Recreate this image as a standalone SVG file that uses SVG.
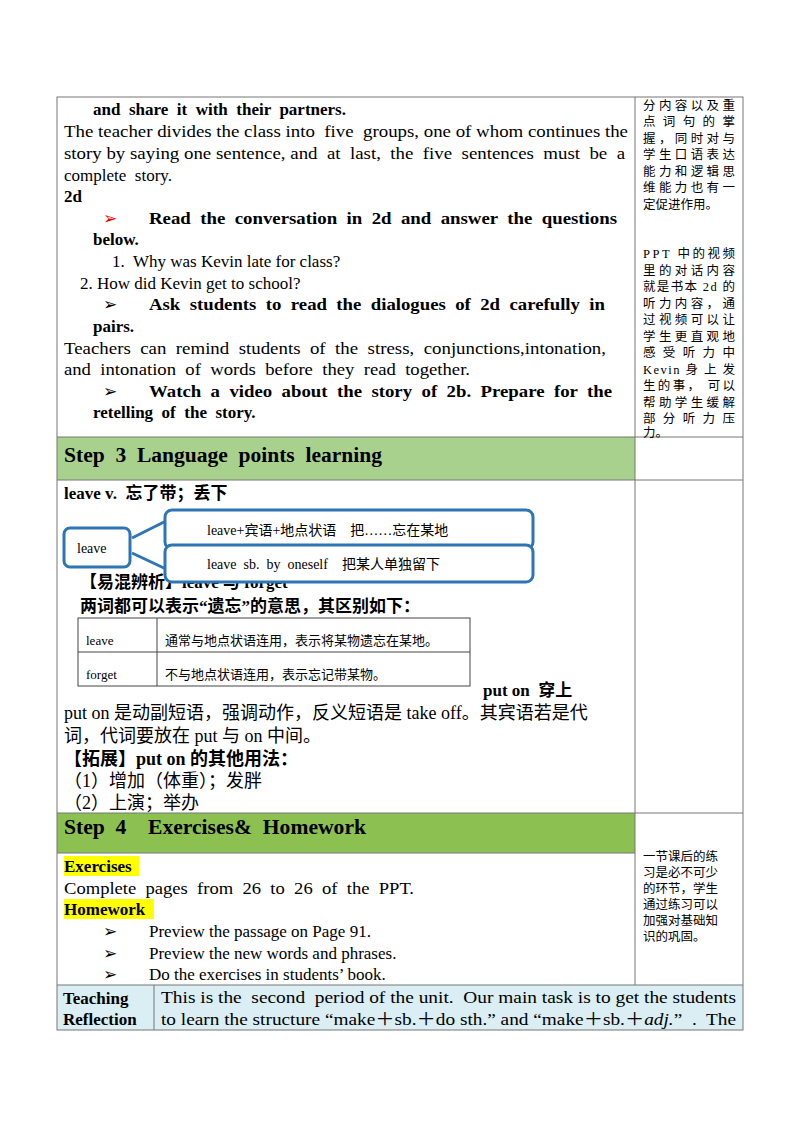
<svg xmlns="http://www.w3.org/2000/svg" width="800" height="1132" viewBox="0 0 800 1132" xml:space="preserve">
<style>
text{font-family:"Liberation Serif","Noto Sans CJK SC",serif;font-size:17px;fill:#000;white-space:pre}
.b{font-weight:bold}
.s{font-size:14px}
.r{font-size:12.5px}
.g{stroke:#777;stroke-width:1;fill:none}
.cb{fill:#fff;stroke:#2e75b6;stroke-width:3}
</style>
<rect width="800" height="1132" fill="#fff"/>
<g id="fills">
<rect x="57" y="437" width="578" height="43" fill="#a9d18e"/>
<rect x="57" y="813" width="578" height="40" fill="#8cc152"/>
<rect x="57" y="985" width="686" height="45" fill="#daeef3"/>
<rect x="64" y="856" width="75" height="20" fill="#ffff00"/>
<rect x="64" y="899" width="90" height="20" fill="#ffff00"/>
</g>
<g id="grid" class="g">
<rect x="57" y="97" width="686" height="933"/>
<line x1="635" y1="97" x2="635" y2="985"/>
<line x1="57" y1="437" x2="743" y2="437"/>
<line x1="57" y1="480" x2="743" y2="480"/>
<line x1="57" y1="813" x2="743" y2="813"/>
<line x1="57" y1="853" x2="635" y2="853"/>
<line x1="57" y1="985" x2="743" y2="985"/>
<line x1="154" y1="985" x2="154" y2="1030"/>
</g>
<g id="block1">
<text x="93" y="115" class="b">and  share  it  with  their  partners.</text>
<text x="64" y="137" textLength="564" lengthAdjust="spacingAndGlyphs">The teacher divides the class into  five  groups, one of whom continues the</text>
<text x="64" y="159" textLength="561" lengthAdjust="spacingAndGlyphs">story by saying one sentence, and  at  last,  the  five  sentences  must  be  a</text>
<text x="64" y="181">complete  story.</text>
<text x="64" y="202" class="b">2d</text>
<text x="103" y="224" style="fill:#e00">➢</text>
<text x="149" y="224" class="b" textLength="468" lengthAdjust="spacingAndGlyphs">Read  the  conversation  in  2d  and  answer  the  questions</text>
<text x="93" y="245" class="b">below.</text>
<text x="112" y="267">1.  Why was Kevin late for class?</text>
<text x="80" y="289">2. How did Kevin get to school?</text>
<text x="103" y="310">➢</text>
<text x="149" y="310" class="b" textLength="456" lengthAdjust="spacingAndGlyphs">Ask  students  to  read  the  dialogues  of  2d  carefully  in</text>
<text x="93" y="332" class="b">pairs.</text>
<text x="64" y="354" textLength="542" lengthAdjust="spacingAndGlyphs">Teachers  can  remind  students  of  the  stress,  conjunctions,intonation,</text>
<text x="64" y="375" textLength="406" lengthAdjust="spacingAndGlyphs">and  intonation  of  words  before  they  read  together.</text>
<text x="103" y="397">➢</text>
<text x="149" y="397" class="b" textLength="463" lengthAdjust="spacingAndGlyphs">Watch  a  video  about  the  story  of  2b.  Prepare  for  the</text>
<text x="93" y="418" class="b">retelling  of  the  story.</text>
</g>
<g id="notes1">
<text x="643" y="110" class="r" textLength="92">分内容以及重</text>
<text x="643" y="126" class="r" textLength="92">点 词 句 的 掌</text>
<text x="643" y="143" class="r" textLength="92">握，同时对与</text>
<text x="643" y="159" class="r" textLength="92">学生口语表达</text>
<text x="643" y="176" class="r" textLength="92">能力和逻辑思</text>
<text x="643" y="192" class="r" textLength="92">维能力也有一</text>
<text x="643" y="209" class="r">定促进作用。</text>
<text x="643" y="258" class="r" textLength="92">PPT 中的视频</text>
<text x="643" y="275" class="r" textLength="92">里的对话内容</text>
<text x="643" y="291" class="r" textLength="92">就是书本 2d 的</text>
<text x="643" y="308" class="r" textLength="92">听力内容，通</text>
<text x="643" y="324" class="r" textLength="92">过视频可以让</text>
<text x="643" y="341" class="r" textLength="92">学生更直观地</text>
<text x="643" y="357" class="r" textLength="92">感 受 听 力 中</text>
<text x="643" y="374" class="r" textLength="92">Kevin 身 上 发</text>
<text x="643" y="390" class="r" textLength="92">生的事， 可以</text>
<text x="643" y="407" class="r" textLength="92">帮助学生缓解</text>
<text x="643" y="423" class="r" textLength="92">部 分 听 力 压</text>
<text x="643" y="437" class="r">力。</text>
</g>
<text x="64" y="462" class="b" style="font-size:20px" textLength="318" lengthAdjust="spacingAndGlyphs">Step  3  Language  points  learning</text>
<g id="lp">
<text x="64" y="499" class="b">leave v.  忘了带；丢下</text>
<text x="80" y="588" class="b">【易混辨析】leave 与 forget</text>
<text x="80" y="612" class="b">两词都可以表示“遗忘”的意思，其区别如下：</text>
</g>
<g id="connectors" stroke="#2e75b6" stroke-width="3">
<line x1="132" y1="538" x2="166" y2="521"/>
<line x1="132" y1="553" x2="166" y2="569"/>
</g>
<g id="node-leave"><rect x="64" y="528" width="66" height="39" rx="6" class="cb"/><text x="77" y="553" class="s">leave</text></g>
<g id="node-1"><rect x="165" y="510" width="368" height="39" rx="7" class="cb"/><text x="207" y="535" class="s">leave+宾语+地点状语　把……忘在某地</text></g>
<g id="node-2"><rect x="165" y="545" width="368" height="37" rx="7" class="cb"/><text x="207" y="569" class="s">leave  sb.  by  oneself　把某人单独留下</text></g>
<g id="tbl" class="g">
<rect x="78" y="618" width="392" height="68" style="stroke:#444"/>
<line x1="157" y1="618" x2="157" y2="686" style="stroke:#444"/>
<line x1="78" y1="652" x2="470" y2="652" style="stroke:#444"/>
</g>
<text x="86" y="645" style="font-size:13px">leave</text>
<text x="165" y="645" style="font-size:13px">通常与地点状语连用，表示将某物遗忘在某地。</text>
<text x="86" y="679" style="font-size:13px">forget</text>
<text x="165" y="679" style="font-size:13px">不与地点状语连用，表示忘记带某物。</text>
<text x="483" y="696" class="b">put on  穿上</text>
<text x="64" y="719" style="font-size:18px">put on 是动副短语，强调动作，反义短语是 take off。其宾语若是代</text>
<text x="64" y="742" style="font-size:18px">词，代词要放在 put 与 on 中间。</text>
<text x="64" y="765" class="b" style="font-size:18px">【拓展】put on 的其他用法：</text>
<text x="64" y="787" style="font-size:18px">（1）增加（体重）；发胖</text>
<text x="64" y="809" style="font-size:18px">（2）上演；举办</text>
<text x="64" y="834" class="b" style="font-size:20px" textLength="302" lengthAdjust="spacingAndGlyphs">Step  4    Exercises&amp;  Homework</text>
<g id="hw">
<text x="64" y="872" class="b">Exercises</text>
<text x="64" y="894" textLength="350" lengthAdjust="spacingAndGlyphs">Complete  pages  from  26  to  26  of  the  PPT.</text>
<text x="64" y="915" class="b">Homework</text>
<text x="103" y="937">➢</text><text x="149" y="937">Preview the passage on Page 91.</text>
<text x="103" y="959">➢</text><text x="149" y="959">Preview the new words and phrases.</text>
<text x="103" y="980">➢</text><text x="149" y="980">Do the exercises in students’ book.</text>
</g>
<g id="notes2">
<text x="643" y="861" class="r">一节课后的练</text>
<text x="643" y="877" class="r">习是必不可少</text>
<text x="643" y="893" class="r">的环节，学生</text>
<text x="643" y="909" class="r">通过练习可以</text>
<text x="643" y="925" class="r">加强对基础知</text>
<text x="643" y="941" class="r">识的巩固。</text>
</g>
<text x="63" y="1004" class="b">Teaching</text>
<text x="63" y="1025" class="b">Reflection</text>
<text x="161" y="1003" textLength="575" lengthAdjust="spacingAndGlyphs">This is the  second  period of the unit.  Our main task is to get the students</text>
<text x="161" y="1025" textLength="575" lengthAdjust="spacingAndGlyphs">to learn the structure “make＋sb.＋do sth.” and “make＋sb.＋<tspan font-style="italic">adj.</tspan>”  .  The</text>
</svg>
